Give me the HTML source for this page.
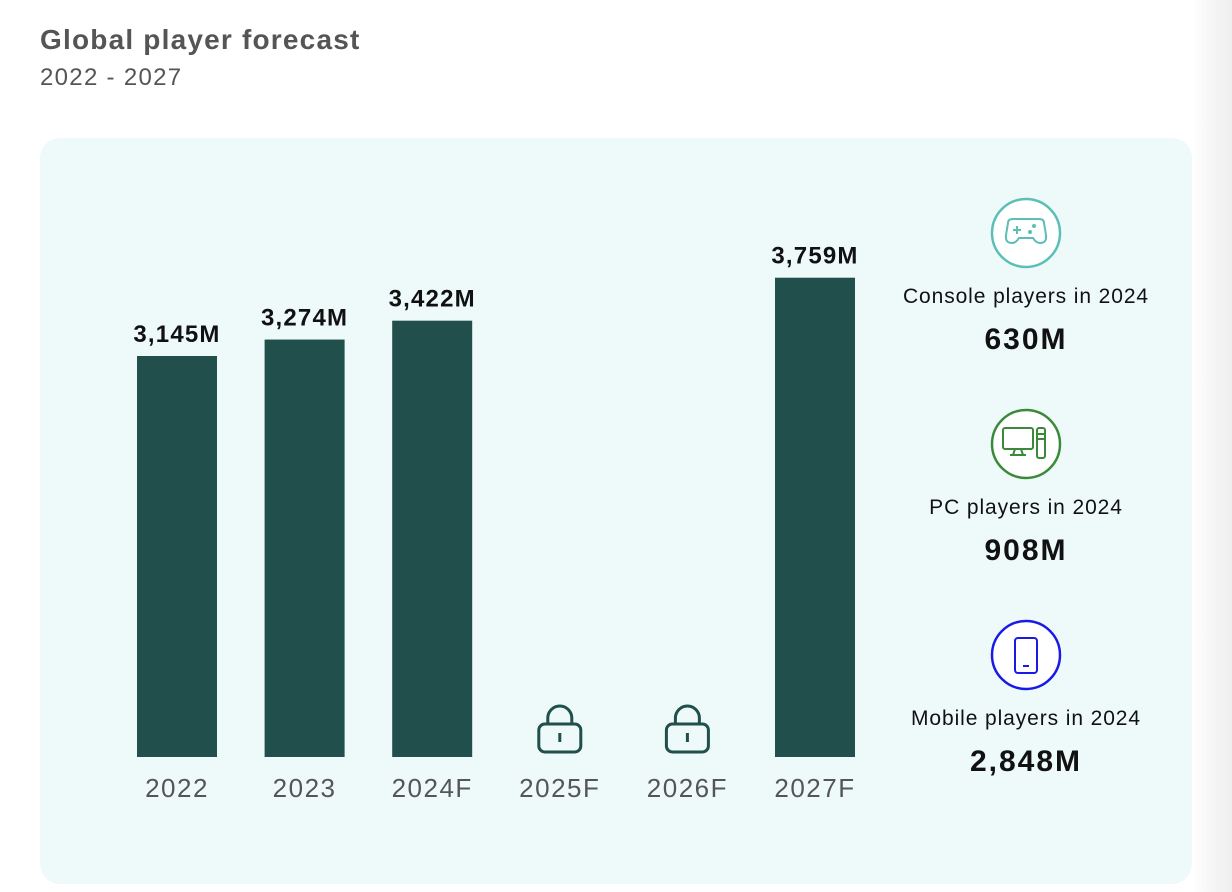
<!DOCTYPE html>
<html><head><meta charset="utf-8">
<style>
body{margin:0;width:1232px;height:892px;background:#fff;font-family:"Liberation Sans",sans-serif;position:relative;overflow:hidden}
.fade{position:absolute;right:0;top:0;width:40px;height:892px;background:linear-gradient(to right,#fff,#eeeeee)}
h1{position:absolute;left:40px;top:24px;margin:0;font-size:28px;font-weight:bold;color:#555;letter-spacing:1.2px}
.sub{position:absolute;left:40px;top:64px;font-size:24px;color:#555;letter-spacing:1.3px}
.card{position:absolute;left:40px;top:138px;width:1152px;height:746px;background:#eefafa;border-radius:20px}
</style></head><body>
<div class="fade"></div>
<h1>Global player forecast</h1>
<div class="sub">2022 - 2027</div>
<div class="card"></div>
<svg id="chart" width="1232" height="892" style="position:absolute;left:0;top:0"></svg>
<script>
const categories=["2022","2023","2024F","2025F","2026F","2027F"];
const values=[3145,3274,3422,null,null,3759];
const valueLabels=["3,145M","3,274M","3,422M","","","3,759M"];
const statLabels=["Console players in 2024","PC players in 2024","Mobile players in 2024"];
const statValues=["630M","908M","2,848M"];
const NS="http://www.w3.org/2000/svg";
const svg=document.getElementById('chart');
const base=757,scale=401/3145,x0=177,step=127.6,bw=80;
const xPos=i=>x0+i*step;
const yPos=v=>base-v*scale;
function mk(t,a,p){const e=document.createElementNS(NS,t);for(const k in a)e.setAttribute(k,a[k]);(p||svg).appendChild(e);return e;}
categories.forEach((c,i)=>{
  const cx=xPos(i);
  if(values[i]!=null){
    const r=mk('rect',{x:cx-bw/2,y:yPos(values[i]),width:bw,height:base-yPos(values[i]),fill:'#214f4b'});
    
    
    const t=mk('text',{x:cx,y:yPos(values[i])-14,'text-anchor':'middle','font-size':24,'font-weight':'bold',fill:'#111','letter-spacing':1.2});
    t.textContent=valueLabels[i];
    
    
  } else {
    const g=mk('g',{stroke:'#214f4b','stroke-width':3,fill:'none'});
    
    
    mk('path',{d:`M${cx-12} 724 v-6 a12 12 0 0 1 24 0 v6`},g);
    mk('rect',{x:cx-21,y:724,width:42,height:28,rx:6},g);
    mk('line',{x1:cx,y1:733,x2:cx,y2:742},g);
  }
  const l=mk('text',{x:cx,y:797,'text-anchor':'middle','font-size':26,fill:'#555','letter-spacing':1.5});
  l.textContent=c;
  
  
});
const colors=['#5bbfb5','#3a8a3a','#1a1ae6'];
statLabels.forEach((s,i)=>{
  const cy=233+i*211,cx=1026;
  const g=mk('g',{});
  
  
  mk('circle',{cx:cx,cy:cy,r:34,fill:'#fff',stroke:colors[i],'stroke-width':2.5},g);
  const ic=mk('g',{stroke:colors[i],'stroke-width':2,fill:'none'},g);
  if(i==0){
    mk('path',{d:`M${cx-18} ${cy-10} q0 -4 5 -4 h26 q5 0 5 4 l2 12 q1 8 -6 8 q-4 0 -7 -5 h-14 q-3 5 -7 5 q-7 0 -6 -8z`},ic);
    mk('path',{d:`M${cx-13} ${cy-3} h8 M${cx-9} ${cy-7} v8`},ic);
    mk('circle',{cx:cx+8,cy:cy-7,r:1},ic);mk('circle',{cx:cx+4,cy:cy-1,r:1},ic);
  } else if(i==1){
    mk('rect',{x:cx-23,y:cy-16,width:30,height:21,rx:2},ic);
    mk('path',{d:`M${cx-11} ${cy+5} l-2 6 M${cx-5} ${cy+5} l2 6 M${cx-16} ${cy+11} h16`},ic);
    mk('rect',{x:cx+11,y:cy-16,width:8,height:30,rx:2},ic);
    mk('path',{d:`M${cx+11} ${cy-10} h8 M${cx+11} ${cy-5} h8`},ic);
  } else {
    mk('rect',{x:cx-11,y:cy-17,width:22,height:35,rx:3},ic);
    mk('path',{d:`M${cx-3} ${cy+11} h6`},ic);
  }
  const t=mk('text',{x:cx,y:cy+70,'text-anchor':'middle','font-size':21,fill:'#111','letter-spacing':0.9},g);t.textContent=s;
  const v=mk('text',{x:cx,y:cy+116,'text-anchor':'middle','font-size':30,'font-weight':'bold',fill:'#111','letter-spacing':2},g);v.textContent=statValues[i];
});
</script>
</body></html>
